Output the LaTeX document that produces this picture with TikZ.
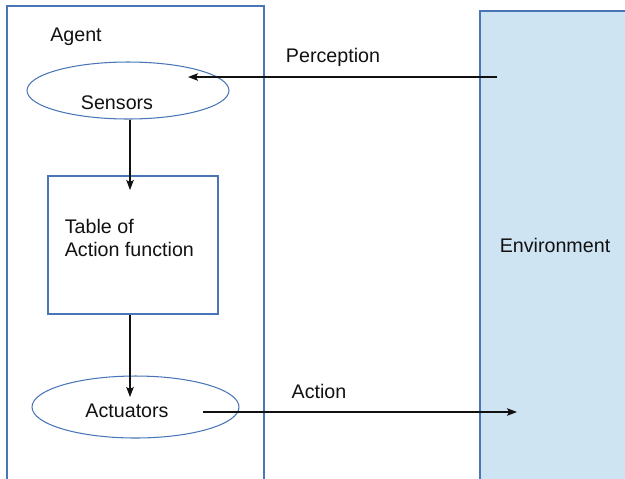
\documentclass[tikz,border=0pt]{standalone}
\usepackage{fontspec}
\setmainfont{Liberation Sans}
\usetikzlibrary{arrows.meta,shapes.geometric}
\definecolor{frameblue}{HTML}{4A76B8}
\definecolor{envfill}{HTML}{CFE4F3}
\definecolor{inkblack}{HTML}{111111}

\begin{document}
\begin{tikzpicture}[
  x=0.02cm,
  y=-0.02cm,
  every node/.style={font=\fontsize{11.2}{12.6}\selectfont, inkblack},
  frame/.style={frameblue, line width=0.6pt},
  envbox/.style={frameblue, line width=0.6pt, fill=envfill},
  part/.style={ellipse, draw=frameblue, line width=0.6pt, inner sep=0pt},
  tablebox/.style={rectangle, draw=frameblue, line width=0.6pt, inner sep=0pt,
                   minimum width=3.4cm, minimum height=2.76cm},
  flow/.style={inkblack, line width=0.6pt,
               -{Stealth[length=2mm, width=1.5mm, inset=0.4mm]}}
]
  \clip (0,0) rectangle (625,478);

  % ---- agent and environment ----
  \draw[frame] (7,500) -- (7,6) -- (264,6) -- (264,500);
  \node (agentlab) at (76,37) {Agent};
  \draw[envbox] (480,11) rectangle (650,500);
  \node (envlab) at (555,245) {Environment};

  % ---- parts of the agent ----
  \node[part, minimum width=4.04cm, minimum height=1.14cm,
        label={[xshift=-0.22cm, yshift=-0.24cm]center:Sensors}]
    (sensors) at (128,90.5) {};
  \node[tablebox,
        label={[anchor=west, inner sep=0pt, align=left,
                xshift=0.34cm, yshift=0.14cm]west:Table of\\Action function}]
    (table) at (133,245) {};
  \node[part, minimum width=4.14cm, minimum height=1.24cm,
        label={[xshift=-0.17cm, yshift=-0.08cm]center:Actuators}]
    (actuators) at (135.5,407) {};

  % ---- arrow ends ----
  \coordinate (tablein) at (130,190);
  \coordinate (actin)   at (130,397);
  \coordinate (percfrom) at (497,77);
  \coordinate (percto)   at (188,77);
  \coordinate (actfrom)  at (203,412);
  \coordinate (actto)    at (517,412);

  % ---- arrows ----
  \draw[flow] (sensors.south -| tablein) -- (tablein);
  \draw[flow] (table.south -| actin) -- (actin);
  \draw[flow] (percfrom) -- (percto);
  \draw[flow] (actfrom) -- (actto);

  \node (perclab) at (333,57)  {Perception};
  \node (actlab)  at (319,391) {Action};
\end{tikzpicture}
\end{document}
